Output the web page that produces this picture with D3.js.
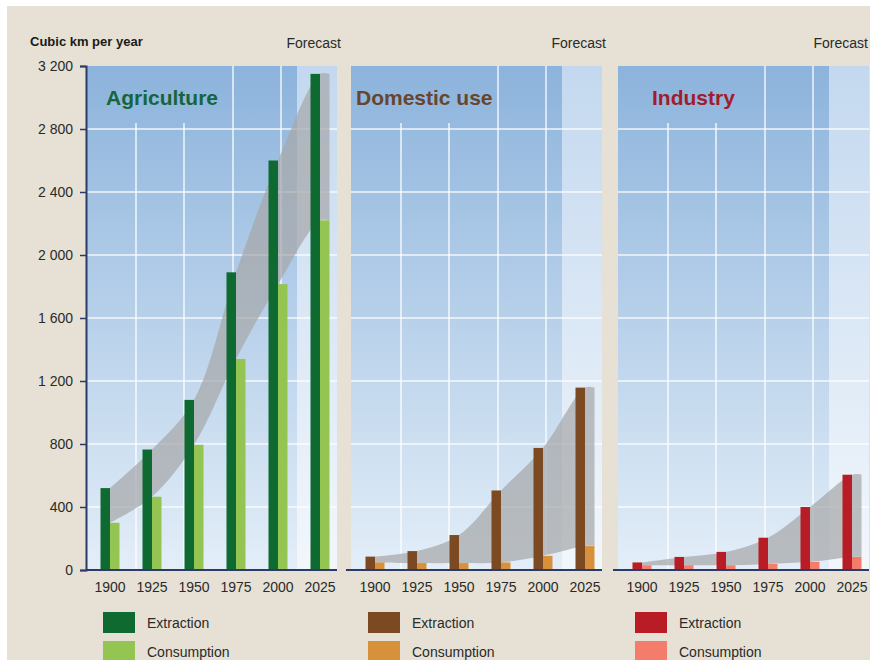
<!DOCTYPE html>
<html>
<head>
<meta charset="utf-8">
<script src="https://cdn.jsdelivr.net/npm/d3@7"></script>
<style>
  body { margin: 0; background: #fff; }
  svg { display: block; font-family: "Liberation Sans", Arial, sans-serif; }
</style>
</head>
<body>
<div id="chart"></div>
<script>
// ----------------------------------------------------------------
// data (cubic km per year)
// ----------------------------------------------------------------
const years = [1900, 1925, 1950, 1975, 2000, 2025];
const sectors = ["Agriculture", "Domestic use", "Industry"];

const agriExtraction = [520, 765, 1080, 1890, 2600, 3150];
const agriConsumption = [300, 465, 795, 1340, 1815, 2220];
const domExtraction = [85, 120, 222, 505, 775, 1158];
const domConsumption = [48, 44, 44, 48, 90, 152];
const indExtraction = [48, 83, 115, 205, 400, 605];
const indConsumption = [30, 30, 30, 38, 52, 83];

const yTicks = [0, 400, 800, 1200, 1600, 2000, 2400, 2800, 3200];
const legendLabels = ["Extraction", "Consumption"];

const extraction = [agriExtraction, domExtraction, indExtraction];
const consumption = [agriConsumption, domConsumption, indConsumption];

// ----------------------------------------------------------------
// layout + styles
// ----------------------------------------------------------------
const width = 870, height = 660;
const panelX = [86, 351, 618];
const panelW = 251;
const forecastW = 40;
const titleDx = [20, 5, 34];
const barW = 9.5;
const extColors = ["#0e6a30", "#7b4a22", "#b81d25"];
const consColors = ["#94c553", "#d8913b", "#f47c6a"];
const titleColors = ["#17653a", "#674630", "#a11d2b"];

const svg = d3.select("#chart").append("svg")
    .attr("width", width)
    .attr("height", height);

// beige page
svg.append("rect")
    .attr("x", 7).attr("y", 6)
    .attr("width", width - 7).attr("height", height - 6)
    .attr("fill", "#e6e1d4");

const defs = svg.append("defs");
function vGrad(id, c1, c2) {
    const g = defs.append("linearGradient")
        .attr("id", id)
        .attr("x1", 0).attr("y1", 0).attr("x2", 0).attr("y2", 1);
    g.append("stop").attr("offset", "0%").attr("stop-color", c1);
    g.append("stop").attr("offset", "100%").attr("stop-color", c2);
}
vGrad("panelGrad", "#8cb3dc", "#e3eef8");
vGrad("foreGrad", "#c3d8ef", "#f2f7fc");

const y = d3.scaleLinear()
    .domain([0, 3200])
    .range([570, 66]);

const x = d3.scalePoint()
    .domain(years)
    .range([24, 234]);

const gridStep = 48.6;
const vGrid = d3.range(1, 5).map(k => Math.round(k * gridStep) + 1);

svg.append("text")
    .attr("x", 30).attr("y", 46)
    .style("font-size", "13px")
    .style("font-weight", "bold")
    .attr("fill", "#1a1a1a")
    .text("Cubic km per year");

sectors.forEach(function (name, i) {
    const g = svg.append("g")
        .attr("transform", "translate(" + panelX[i] + ",0)");

    // backgrounds
    g.append("rect")
        .attr("x", 0).attr("y", y(3200))
        .attr("width", panelW).attr("height", y(0) - y(3200))
        .attr("fill", "url(#panelGrad)");
    g.append("rect")
        .attr("x", panelW - forecastW).attr("y", y(3200))
        .attr("width", forecastW).attr("height", y(0) - y(3200))
        .attr("fill", "url(#foreGrad)");

    // grid
    g.append("g")
        .selectAll("line")
        .data(yTicks.filter(d => d > 0 && d < 3200))
        .enter().append("line")
        .attr("x1", 0).attr("x2", panelW)
        .attr("y1", d => y(d)).attr("y2", d => y(d))
        .attr("stroke", "#fff")
        .attr("stroke-opacity", 0.85)
        .attr("stroke-width", 1.5);
    g.append("g")
        .selectAll("line")
        .data(vGrid)
        .enter().append("line")
        .attr("x1", d => d).attr("x2", d => d)
        .attr("y1", (d, k) => k < 2 ? 123 : y(3200))
        .attr("y2", y(0))
        .attr("stroke", "#fff")
        .attr("stroke-opacity", 0.85)
        .attr("stroke-width", 1.5);

    // grey envelope between consumption and extraction
    const pts = years.map((yr, j) => ({ x: x(yr), top: extraction[i][j], bot: consumption[i][j] }));
    const last = pts[pts.length - 1];
    pts.push({ x: last.x + barW, top: last.top, bot: last.bot });
    const area = d3.area()
        .x(d => d.x)
        .y0(d => y(d.bot))
        .y1(d => y(d.top))
        .curve(d3.curveCatmullRom.alpha(0.5));
    g.append("path")
        .datum(pts)
        .attr("d", area)
        .attr("fill", "#a6a7a9")
        .attr("fill-opacity", 0.72);

    // bars
    g.append("g")
        .selectAll("rect")
        .data(years)
        .enter().append("rect")
        .attr("x", d => x(d) - barW)
        .attr("y", (d, j) => y(extraction[i][j]))
        .attr("width", barW)
        .attr("height", (d, j) => y(0) - y(extraction[i][j]))
        .attr("fill", extColors[i]);
    g.append("g")
        .selectAll("rect")
        .data(years)
        .enter().append("rect")
        .attr("x", d => x(d))
        .attr("y", (d, j) => y(consumption[i][j]))
        .attr("width", barW)
        .attr("height", (d, j) => y(0) - y(consumption[i][j]))
        .attr("fill", consColors[i]);

    // baseline
    g.append("line")
        .attr("x1", i === 0 ? 0 : -5).attr("x2", panelW)
        .attr("y1", y(0)).attr("y2", y(0))
        .attr("stroke", "#2b3a66")
        .attr("stroke-width", 2);

    // year labels
    g.append("g")
        .selectAll("text")
        .data(years)
        .enter().append("text")
        .attr("x", d => x(d))
        .attr("y", 592)
        .attr("text-anchor", "middle")
        .style("font-size", "14px")
        .attr("fill", "#2a2a2a")
        .text(d => d);

    // title + forecast
    g.append("text")
        .attr("x", titleDx[i]).attr("y", 105)
        .style("font-size", "21px")
        .style("font-weight", "bold")
        .attr("fill", titleColors[i])
        .text(name);
    g.append("text")
        .attr("x", Math.min(panelW + 4, width - 2 - panelX[i]))
        .attr("y", 48)
        .attr("text-anchor", "end")
        .style("font-size", "14px")
        .attr("fill", "#2a2a2a")
        .text("Forecast");

    // legend
    const legend = g.append("g")
        .selectAll("g")
        .data(legendLabels)
        .enter().append("g")
        .attr("transform", (d, k) => "translate(17," + (612 + k * 29) + ")");
    legend.append("rect")
        .attr("width", 32).attr("height", 21)
        .attr("fill", (d, k) => k === 0 ? extColors[i] : consColors[i]);
    legend.append("text")
        .attr("x", 44).attr("y", 11)
        .attr("dy", ".35em")
        .style("font-size", "14px")
        .attr("fill", "#2a2a2a")
        .text(d => d);
});

// y axis on the first panel
const yAxis = svg.append("g")
    .attr("transform", "translate(" + panelX[0] + ",0)")
    .call(d3.axisLeft(y)
        .tickValues(yTicks)
        .tickSize(6)
        .tickPadding(7)
        .tickFormat(d => d3.format(",")(d).replace(",", " ")));
yAxis.select(".domain")
    .attr("stroke", "#2b3a66")
    .attr("stroke-width", 2);
yAxis.selectAll(".tick line")
    .attr("stroke", "#2b3a66")
    .attr("stroke-width", 1.5);
yAxis.selectAll(".tick text")
    .style("font-size", "14px")
    .style("font-family", "'Liberation Sans', Arial, sans-serif")
    .attr("fill", "#2a2a2a");
</script>
</body>
</html>
